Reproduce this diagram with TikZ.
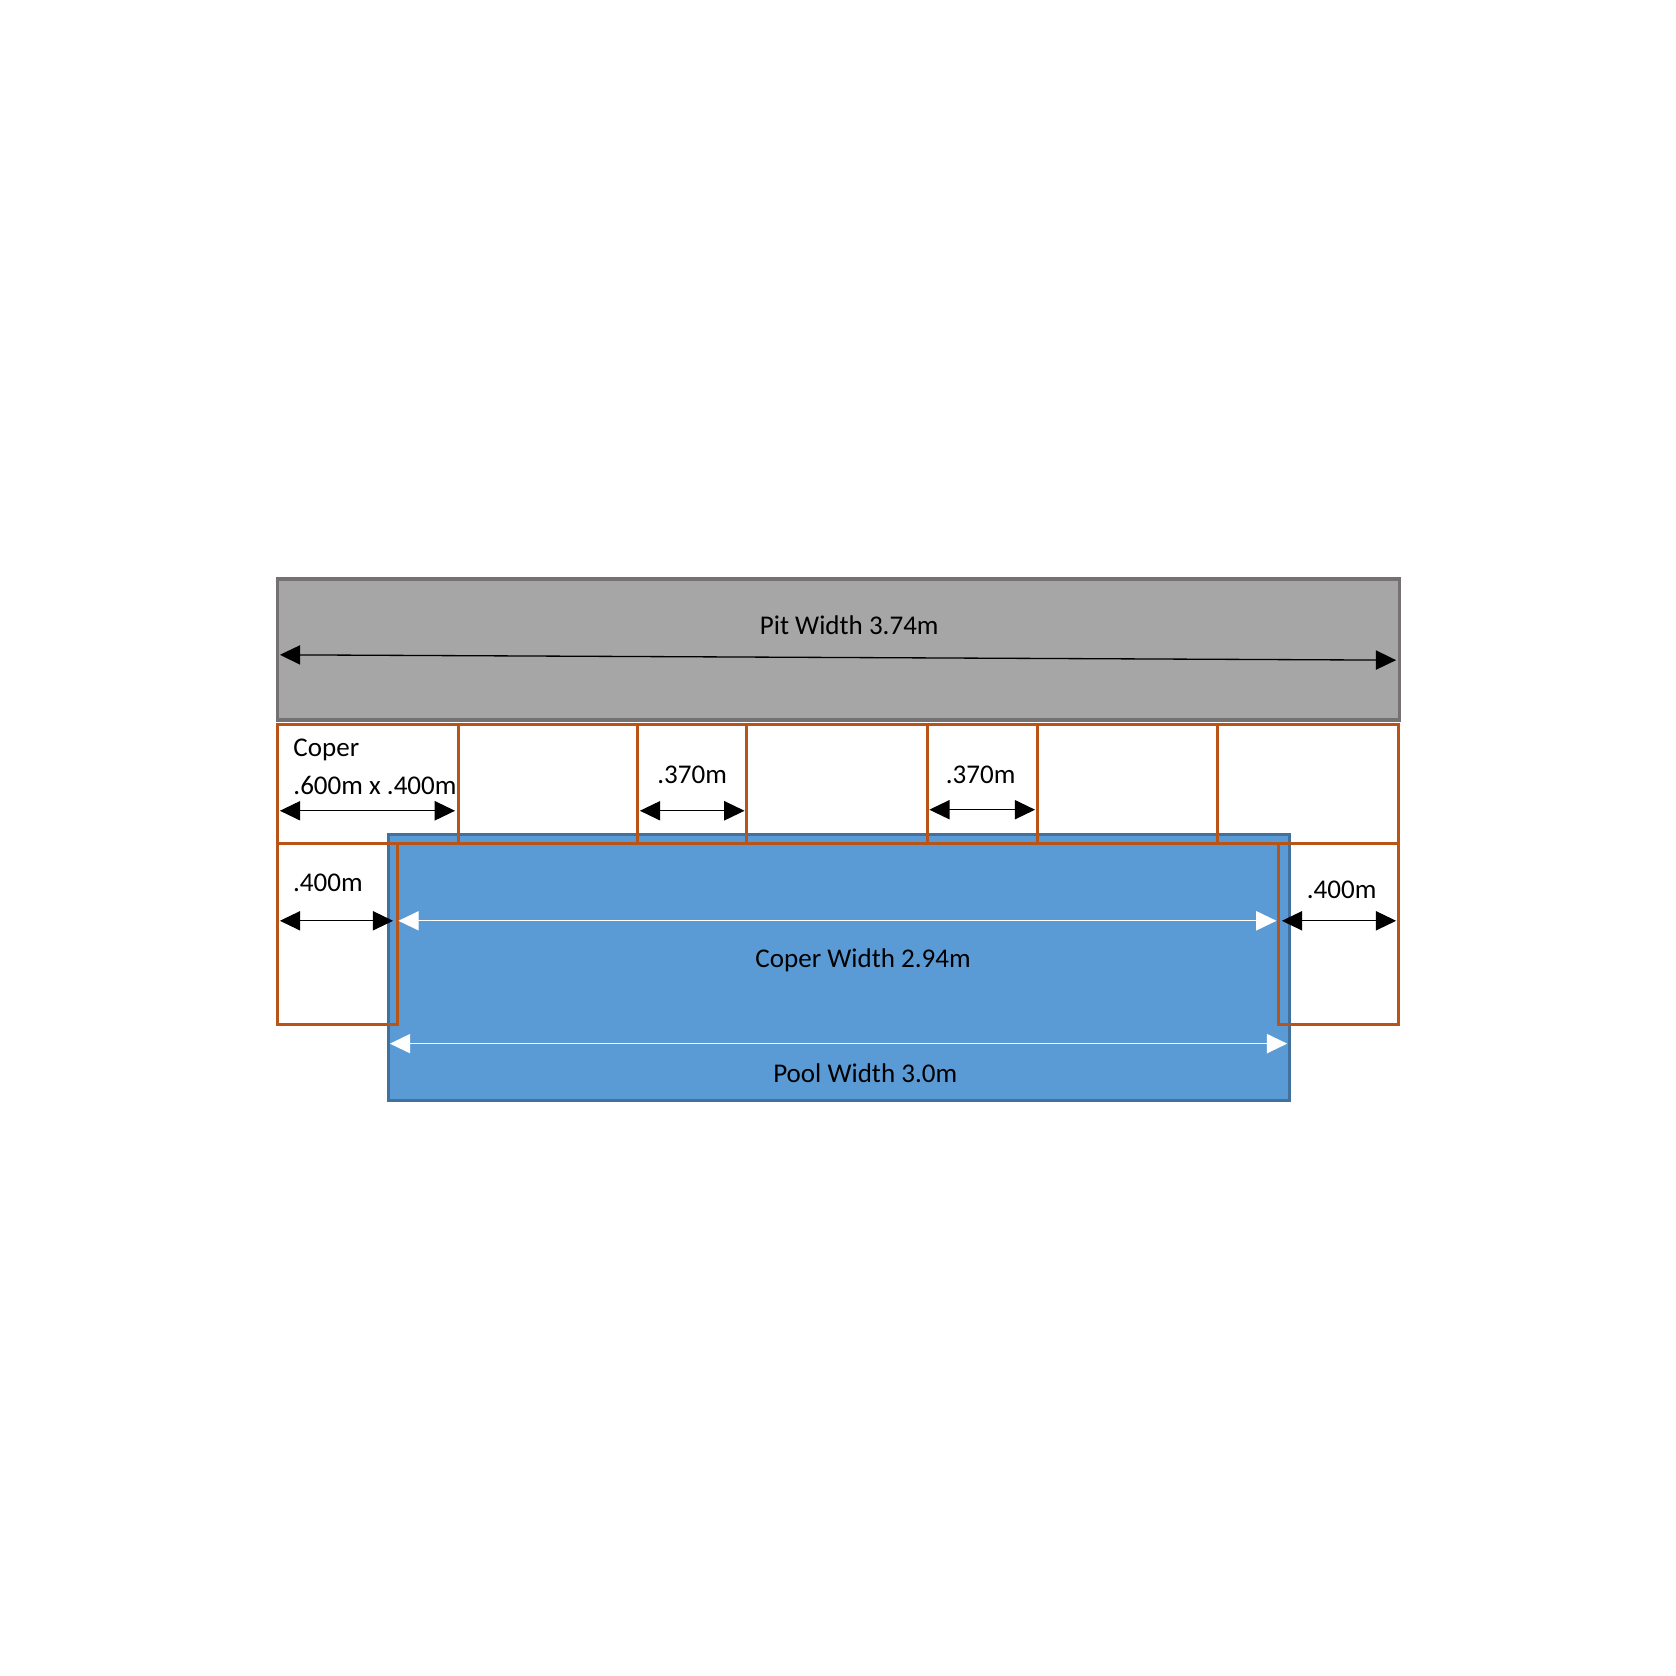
\documentclass[tikz,border=0pt]{standalone}
\usepackage{fontspec}
\setmainfont{Carlito}
\usetikzlibrary{arrows.meta}
\definecolor{pitfill}{HTML}{A6A6A6}
\definecolor{pitdraw}{HTML}{767171}
\definecolor{coperc}{HTML}{B85418}
\definecolor{poolfill}{HTML}{5B9BD5}
\definecolor{pooldraw}{HTML}{41719C}
\tikzset{
  dim/.style={line width=0.35pt,{Triangle[length=0.19cm,width=0.18cm]}-{Triangle[length=0.19cm,width=0.18cm]}},
  wdim/.style={dim,white},
  lbl/.style={font=\fontsize{7.2}{8}\selectfont,inner sep=0pt},
  coperbox/.style={draw=coperc,line width=0.85pt},
}
\begin{document}
\begin{tikzpicture}[x=0.01cm,y=-0.01cm]
\useasboundingbox (0,0) rectangle (1569,1569);
\fill[white] (0,0) rectangle (1569,1569);
% pit
\draw[fill=pitfill,draw=pitdraw,line width=0.85pt] (260,542) rectangle (1310,674);
\coordinate (pa) at (262,613); \coordinate (pb) at (1307,618);
\draw[dim] (pa) -- (pb);
\node[lbl] (pit) at (795,585) {Pit Width 3.74m};
% pool
\draw[fill=poolfill,draw=pooldraw,line width=0.85pt] (364,781) rectangle (1207,1030);
% top row copers
\foreach \a/\b in {260/429,429/597,597/699,699/868,868/971,971/1140,1140/1309}
  \draw[coperbox] (\a,678) rectangle (\b,790);
% side copers
\draw[coperbox] (260,790) rectangle (372,959);
\draw[coperbox] (1197,790) rectangle (1309,959);
% labels & dims
\node[lbl,anchor=west] (coper) at (274,702) {Coper};
\node[lbl,anchor=west] (csize) at (274,735) {.600m x .400m};
\coordinate (c1) at (262,759); \coordinate (c2) at (426,759);
\draw[dim] (c1) -- (c2);
\node[lbl] (g1) at (648,725) {.370m};
\coordinate (g1a) at (599,759); \coordinate (g1b) at (697,759);
\draw[dim] (g1a) -- (g1b);
\node[lbl] (g2) at (918,725) {.370m};
\coordinate (g2a) at (870,758); \coordinate (g2b) at (969,758);
\draw[dim] (g2a) -- (g2b);
\node[lbl] (l4) at (307,826) {.400m};
\coordinate (l4a) at (262,862); \coordinate (l4b) at (368,862);
\draw[dim] (l4a) -- (l4b);
\node[lbl] (r4) at (1256,833) {.400m};
\coordinate (r4a) at (1200,862); \coordinate (r4b) at (1307,862);
\draw[dim] (r4a) -- (r4b);
\coordinate (cwa) at (373,862); \coordinate (cwb) at (1195,862);
\draw[wdim] (cwa) -- (cwb);
\node[lbl] (cw) at (808,899) {Coper Width 2.94m};
\coordinate (pwa) at (365,977); \coordinate (pwb) at (1205,977);
\draw[wdim] (pwa) -- (pwb);
\node[lbl] (pw) at (810,1005) {Pool Width 3.0m};
\end{tikzpicture}
\end{document}
